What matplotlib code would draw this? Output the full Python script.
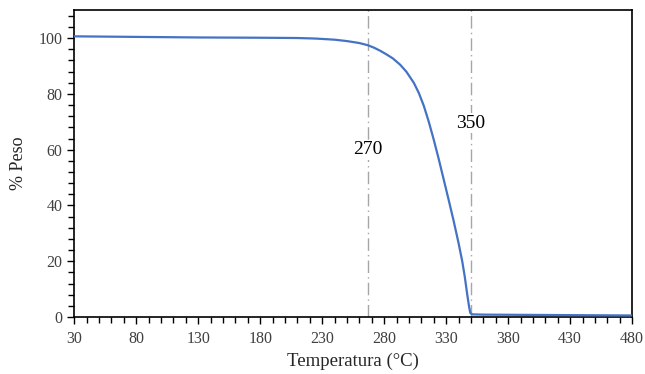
import matplotlib.pyplot as plt
from matplotlib.ticker import MultipleLocator

plt.rcParams['font.family'] = ['Liberation Serif', 'DejaVu Serif']

# curva TGA
temp = [30, 80, 130, 180, 210, 225, 240, 250, 260, 267, 272, 277, 282, 287,
        293, 298, 304, 308, 312, 316, 320, 324, 328, 332, 336, 340, 343, 345,
        347, 348.5, 349.5, 351, 360, 400, 440, 480]
peso = [100.6, 100.4, 100.2, 100.1, 100.0, 99.8, 99.4, 98.9, 98.2, 97.4, 96.5,
        95.4, 94.1, 92.7, 90.4, 87.9, 83.9, 80.3, 75.7, 70.0, 63.6, 56.7, 49.4,
        42.1, 34.6, 26.6, 20.0, 14.6, 8.2, 3.8, 1.5, 1.0, 0.9, 0.8, 0.7, 0.6]

lineas = [267, 350]
etiquetas = ['270', '350']
pos_etiq = [60, 69.5]

fig = plt.figure(figsize=(6.45, 3.74), dpi=100)
ax = fig.add_axes([0.115, 0.152, 0.865, 0.821])

ax.plot(temp, peso, color='#4472C4', lw=1.6, zorder=3)
for x, txt, y in zip(lineas, etiquetas, pos_etiq):
    ax.axvline(x, color='#A6A6A6', lw=1.0, ls=(0, (9, 3, 1, 3)), zorder=2)
    ax.text(x, y, txt, ha='center', va='center', fontsize=14,
            bbox=dict(facecolor='white', edgecolor='none', pad=1))

ax.set_xlim(30, 480)
ax.set_ylim(0, 110)
ax.set_xticks(range(30, 481, 50))
ax.xaxis.set_minor_locator(MultipleLocator(10))
ax.yaxis.set_major_locator(MultipleLocator(20))
ax.yaxis.set_minor_locator(MultipleLocator(4))
ax.tick_params(which='both', direction='out', width=1.0, colors='black',
               labelsize=11.5, labelcolor='#404040')
ax.tick_params(which='major', length=5)
ax.tick_params(which='minor', length=4)
ax.tick_params(axis='x', pad=5)
for s in ax.spines.values():
    s.set_linewidth(1.2)

ax.set_xlabel('Temperatura (°C)', fontsize=13.5, color='#262626', labelpad=4)
ax.set_ylabel('% Peso', fontsize=13, color='#262626', labelpad=8)

fig.savefig('out.png', dpi=100)
